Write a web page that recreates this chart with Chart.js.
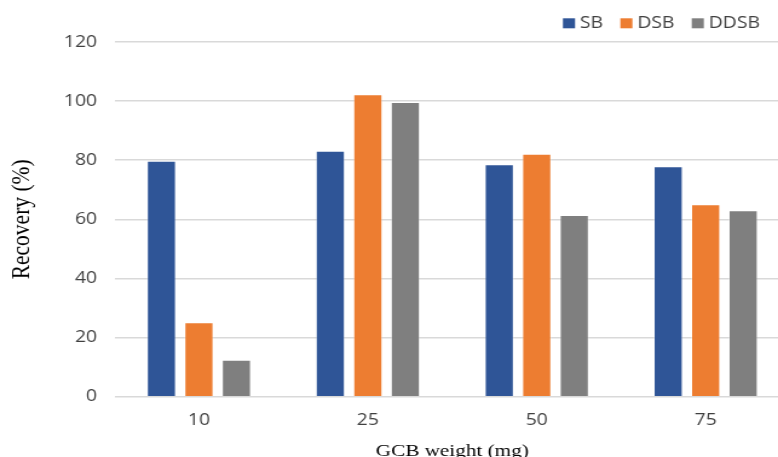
<!DOCTYPE html>
<html lang="en">
  <head>
    <meta charset="UTF-8" />
    <title>GCB weight recovery chart</title>
    <style>
      * {
        margin: 0;
        padding: 0;
        box-sizing: border-box;
      }
      body {
        width: 778px;
        height: 457px;
        overflow: hidden;
        background: #fff;
      }
      /* the source picture is stretched sideways, so the chart is too */
      .chartBox {
        width: 657px;
        height: 457px;
        transform: scaleX(1.21);
        transform-origin: 0 0;
      }
    </style>
  </head>
  <body>
    <div class="chartBox">
      <canvas id="myChart"></canvas>
    </div>

    <script src="https://cdn.jsdelivr.net/npm/chart.js"></script>
    <script>
      const categories = ["10", "25", "50", "75"];
      const seriesNames = ["SB", "DSB", "DDSB"];
      const sbValues = [79.8, 83.2, 78.6, 78.0];
      const dsbValues = [25.2, 102.3, 82.2, 65.1];
      const ddsbValues = [12.5, 99.7, 61.5, 63.1];
      const yTicks = [0, 20, 40, 60, 80, 100, 120];
      const colors = ["#2F5597", "#ED7D31", "#7F7F7F"];

      const ctx = document.getElementById("myChart");

      const data = {
        labels: categories,
        datasets: [sbValues, dsbValues, ddsbValues].map((vals, i) => ({
          label: seriesNames[i],
          data: vals,
          backgroundColor: colors[i],
          borderColor: "rgba(255, 255, 255, 0.35)",
          borderWidth: 1,
          categoryPercentage: 0.666,
          barPercentage: 0.787,
        })),
      };

      // legend drawn by hand so it sits where the original puts it
      const topLegend = {
        id: "topLegend",
        afterDraw(chart) {
          const { ctx } = chart;
          ctx.save();
          ctx.font = "16px 'Open Sans'";
          ctx.textBaseline = "middle";
          const box = 10;
          const gap = 4;
          const itemGap = 14.3;
          const items = chart.data.datasets.map((ds) => ({
            label: ds.label,
            color: ds.backgroundColor,
            w: ctx.measureText(ds.label).width,
          }));
          let total = 0;
          items.forEach((it, i) => {
            total += box + gap + it.w + (i < items.length - 1 ? itemGap : 0);
          });
          let x = 628 - total;
          const yMid = 23.3;
          items.forEach((it) => {
            ctx.fillStyle = it.color;
            ctx.fillRect(x, yMid - 5, box, box);
            x += box + gap;
            ctx.fillStyle = "#404040";
            ctx.fillText(it.label, x, yMid + 0.5);
            x += it.w + itemGap;
          });
          ctx.restore();
        },
      };

      const config = {
        type: "bar",
        data: data,
        options: {
          responsive: true,
          maintainAspectRatio: false,
          animation: false,
          layout: {
            padding: { top: 42, right: 4, bottom: 0, left: 0 },
          },
          plugins: {
            legend: { display: false },
            tooltip: { enabled: false },
          },
          scales: {
            x: {
              grid: { display: false, drawTicks: false },
              border: { display: false },
              ticks: {
                color: "#404040",
                font: { family: "Open Sans", size: 16 },
                padding: 14,
              },
              title: {
                display: true,
                text: "GCB weight (mg)",
                color: "#000",
                font: { family: "Liberation Serif", size: 17.5, lineHeight: 1 },
                padding: { top: -3.5, bottom: -3.5 },
              },
              afterFit(scale) {
                scale.height = 60.3;
              },
            },
            y: {
              min: 0,
              max: 120,
              afterBuildTicks(scale) {
                scale.ticks = yTicks.map((v) => ({ value: v }));
              },
              grid: {
                color: "#d9d9d9",
                lineWidth: 1.5,
                drawTicks: false,
              },
              border: { display: false },
              ticks: {
                color: "#404040",
                font: { family: "Open Sans", size: 16 },
                padding: 14.4,
              },
              title: {
                display: true,
                text: "Recovery (%)",
                color: "#000",
                font: { family: "Liberation Serif", size: 21.5, lineHeight: 1.2 },
                padding: { top: 5.4, bottom: 0 },
              },
              afterFit(scale) {
                scale.width = 94.6;
              },
            },
          },
        },
        plugins: [topLegend],
      };

      const myChart = new Chart(ctx, config);
    </script>
  </body>
</html>
